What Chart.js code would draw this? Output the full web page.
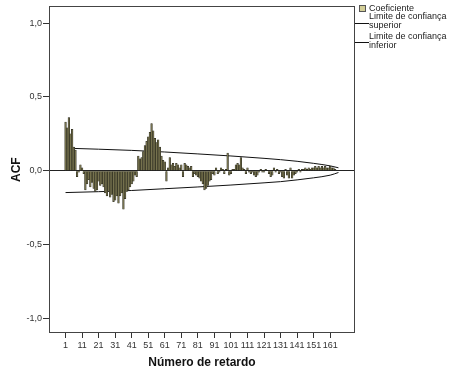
<!DOCTYPE html>
<html>
<head>
<meta charset="utf-8">
<script src="https://cdn.jsdelivr.net/npm/chart.js@4.4.0/dist/chart.umd.min.js"></script>
<style>
  html, body { margin: 0; padding: 0; background: #fff; }
  #wrap { position: relative; width: 474px; height: 379px; }
  .leg { position: absolute; font-family: "Liberation Sans", Arial, sans-serif; font-size: 9px; line-height: 9px; color: #222; white-space: nowrap; }
  .swatch { position: absolute; width: 5px; height: 5px; background: #d3ce97; border: 1px solid #555; }
  .sample { position: absolute; height: 1px; background: #111; }
</style>
</head>
<body>
<div id="wrap">
  <canvas id="acf" width="474" height="379"></canvas>
  <div class="swatch" style="left:359px; top:5px;"></div>
  <div class="leg" style="left:369px; top:4px;">Coeficiente</div>
  <div class="sample" style="left:355px; top:23px; width:14px;"></div>
  <div class="leg" style="left:369px; top:12px;">Limite de confiança<br>superior</div>
  <div class="sample" style="left:355px; top:42px; width:14px;"></div>
  <div class="leg" style="left:369px; top:32px;">Limite de confiança<br>inferior</div>
</div>
<script>
// ACF coefficient per lag, starting at lag 1
const acfValues = [
    0.33, 0.29, 0.36, 0.25, 0.28, 0.16, 0.14, -0.04, -0.01, 0.04,
    0.02, -0.02, -0.13, -0.09, -0.06, -0.11, -0.08, -0.12, -0.14, -0.13,
    -0.07, -0.10, -0.09, -0.11, -0.15, -0.17, -0.14, -0.18, -0.16, -0.21,
    -0.20, -0.17, -0.22, -0.17, -0.15, -0.26, -0.19, -0.14, -0.13, -0.11,
    -0.09, -0.07, -0.03, -0.04, 0.10, 0.08, 0.09, 0.13, 0.17, 0.20,
    0.23, 0.26, 0.32, 0.27, 0.22, 0.19, 0.21, 0.16, 0.10, 0.07,
    0.06, -0.07, 0.02, 0.09, 0.04, 0.05, 0.03, 0.05, 0.04, 0.02,
    0.04, -0.04, 0.05, 0.04, 0.03, 0.02, 0.03, -0.04, -0.02, -0.03,
    -0.04, -0.05, -0.07, -0.09, -0.13, -0.12, -0.10, -0.07, -0.06, -0.02,
    -0.03, 0.02, -0.02, -0.01, 0.02, 0.01, -0.02, 0.01, 0.12, -0.03,
    -0.02, 0.01, 0.01, 0.04, 0.05, 0.04, 0.09, 0.02, 0.01, -0.02,
    0.02, -0.01, -0.02, -0.01, -0.03, -0.04, -0.03, -0.01, 0.01, -0.01,
    -0.01, 0.01, 0.00, -0.02, -0.04, -0.03, 0.02, -0.01, 0.01, -0.02,
    -0.01, -0.04, -0.05, 0.01, -0.03, -0.05, 0.02, -0.05, -0.03, -0.02,
    -0.01, 0.01, -0.01, 0.01, 0.01, 0.02, 0.01, 0.02, 0.01, 0.02,
    0.02, 0.03, 0.02, 0.03, 0.02, 0.03, 0.02, 0.03, 0.02, 0.02,
    0.03, 0.02, 0.02, 0.01
];
const lags = acfValues.map((_, i) => i + 1);

// confidence limits, sampled at a few lags
const boundLags = [1, 21, 41, 61, 81, 101, 121, 131, 141, 151, 161, 166];
const upperBound = [0.153, 0.146, 0.138, 0.127, 0.114, 0.100, 0.084, 0.075, 0.064, 0.050, 0.033, 0.020];
const lowerBound = [-0.148, -0.142, -0.134, -0.122, -0.110, -0.097, -0.082, -0.074, -0.062, -0.048, -0.030, -0.012];

const xTickValues = [1, 11, 21, 31, 41, 51, 61, 71, 81, 91, 101, 111, 121, 131, 141, 151, 161];
const yTickValues = [-1, -0.5, 0, 0.5, 1];

const FONT = '"Liberation Sans", Arial, sans-serif';

// box round the plot area
const frame = {
    id: 'frame',
    afterDraw(chart) {
        const { ctx, chartArea: a } = chart;
        ctx.save();
        ctx.strokeStyle = '#444';
        ctx.lineWidth = 1;
        ctx.strokeRect(Math.round(a.left) + 0.5, Math.round(a.top) + 0.5,
            Math.round(a.right - a.left) - 1, Math.round(a.bottom - a.top) - 1);
        ctx.restore();
    }
};

const toPoints = (xs, ys) => xs.map((x, i) => ({ x: x, y: ys[i] }));

new Chart(document.getElementById('acf'), {
    type: 'bar',
    data: {
        datasets: [
            {
                label: 'Coeficiente',
                data: toPoints(lags, acfValues),
                backgroundColor: '#76724e',
                borderColor: '#1e1e16',
                borderWidth: 0.5,
                barPercentage: 1,
                categoryPercentage: 1,
                grouped: false
            },
            {
                type: 'line',
                label: 'Limite de confiança superior',
                data: toPoints(boundLags, upperBound),
                borderColor: '#111',
                borderWidth: 1,
                pointRadius: 0,
                cubicInterpolationMode: 'monotone',
                fill: false
            },
            {
                type: 'line',
                label: 'Limite de confiança inferior',
                data: toPoints(boundLags, lowerBound),
                borderColor: '#111',
                borderWidth: 1,
                pointRadius: 0,
                cubicInterpolationMode: 'monotone',
                fill: false
            }
        ]
    },
    options: {
        responsive: false,
        animation: false,
        devicePixelRatio: 1,
        layout: { padding: { left: 0, right: 119, top: 3, bottom: 0 } },
        plugins: { legend: { display: false }, tooltip: { enabled: false } },
        scales: {
            x: {
                type: 'linear',
                min: -9,
                max: 176,
                offset: false,
                afterBuildTicks: s => { s.ticks = xTickValues.map(v => ({ value: v })); },
                afterFit: s => { s.height = 46; },
                ticks: {
                    autoSkip: false, maxRotation: 0, padding: 2,
                    color: '#333', font: { family: FONT, size: 9 },
                    callback: v => String(v)
                },
                grid: { offset: false, drawOnChartArea: false, drawTicks: true, tickLength: 5, tickColor: '#333' },
                border: { display: false },
                title: {
                    display: true, text: 'Número de retardo', color: '#111',
                    font: { family: FONT, size: 12, weight: 'bold' },
                    padding: { top: 0, bottom: 9 }
                }
            },
            y: {
                min: -1.1,
                max: 1.114,
                afterBuildTicks: s => { s.ticks = yTickValues.map(v => ({ value: v })); },
                afterFit: s => { s.width = 49; },
                ticks: {
                    padding: 1, color: '#333', font: { family: FONT, size: 9 },
                    callback: v => v.toFixed(1).replace('.', ',')
                },
                grid: {
                    color: c => (c.tick && c.tick.value === 0) ? '#222' : 'rgba(0,0,0,0)',
                    drawTicks: true, tickLength: 6, tickColor: '#333'
                },
                border: { display: false },
                title: {
                    display: true, text: 'ACF', color: '#111',
                    font: { family: FONT, size: 12, weight: 'bold' },
                    padding: { top: 9, bottom: 0 }
                }
            }
        }
    },
    plugins: [frame]
});
</script>
</body>
</html>
